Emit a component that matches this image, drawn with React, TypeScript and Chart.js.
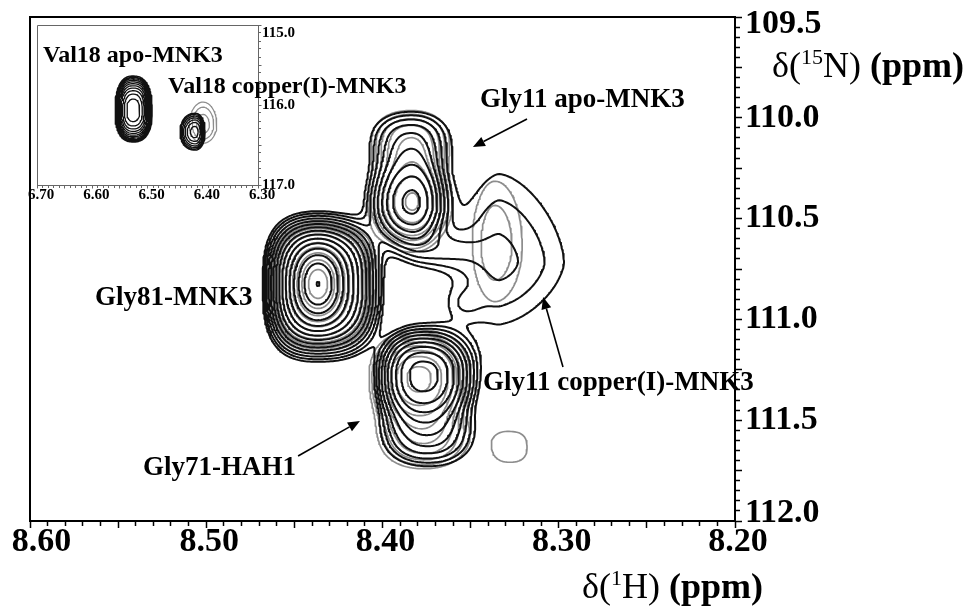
import { useEffect, useRef } from 'react';
import { Chart, registerables } from 'chart.js';

Chart.register(...registerables);

const SERIF = '"Liberation Serif", "Times New Roman", serif';
const BLACK = '#111111';
const GRAY = '#8d8d8d';

// ---------- main spectrum axes (ppm) ----------
const H_MIN = 8.2;
const H_MAX = 8.6;
const N_MIN = 109.5;
const N_MAX = 112.0;

// contour levels (relative intensity)
const BLACK_LEVELS = [1.0, 1.35, 1.82, 2.46, 3.32, 4.48, 6.05, 8.17, 11.0, 14.9, 20.1, 27.1, 36.6, 49.4, 66.7, 90.0];
const GRAY_LEVELS = [1.16, 1.57, 2.12, 2.86, 3.86, 5.21, 7.03, 9.49, 12.8, 17.3, 23.4, 31.5, 42.6];

// ---------- black spectrum: lineshape components ----------
const BLACK_PEAKS = ['Gly81-MNK3 base', 'Gly81-MNK3 core', 'Gly11 apo-MNK3', 'Gly11 apo-MNK3 shoulder', 'Gly11 copper(I)-MNK3', 'Gly11 copper(I)-MNK3 tail', 'Gly11 exchange ridge', 'Gly71-HAH1', 'Gly71-HAH1 shoulder'];
const BLACK_H = [8.4366, 8.4366, 8.3833, 8.3844, 8.3339, 8.3549, 8.3674, 8.3770, 8.3742];
const BLACK_N = [110.824, 110.824, 110.4226, 110.110, 110.7153, 110.9286, 110.6558, 111.2758, 111.5734];
const BLACK_AMP = [22, 45, 12, 3, 2.0, 0.6, 1.2, 17, 3.5];
const BLACK_WL = [0.0212, 0.01135, 0.0170, 0.0204, 0.0321, 0.0113, 0.0199, 0.0176, 0.0227];
const BLACK_WR = [0.0250, 0.01135, 0.0136, 0.0193, 0.0464, 0.0113, 0.0199, 0.0198, 0.0227];
const BLACK_WU = [0.2390, 0.154, 0.189, 0.129, 0.549, 0.089, 0.089, 0.158, 0.124];
const BLACK_WD = [0.2590, 0.154, 0.164, 0.149, 0.387, 0.089, 0.089, 0.189, 0.139];
const BLACK_EXP = [2.9, 2, 2, 2.2, 1.6, 2, 2, 2.3, 2.2];

// ---------- gray spectrum: lineshape components ----------
const GRAY_PEAKS = ['Gly81-MNK3 base', 'Gly81-MNK3 core', 'Gly11 apo-MNK3', 'Gly11 apo-MNK3 shoulder', 'Gly11 copper(I)-MNK3', 'Gly71-HAH1', 'Gly71-HAH1 shoulder', 'minor peak'];
const GRAY_H = [8.4366, 8.4366, 8.3830, 8.3840, 8.3362, 8.3793, 8.3765, 8.3271];
const GRAY_N = [110.824, 110.824, 110.420, 110.100, 110.631, 111.2907, 111.5883, 111.633];
const GRAY_AMP = [12, 25, 10, 3.2, 1.9, 14, 3.5, 1.5];
const GRAY_WL = [0.0200, 0.0110, 0.0172, 0.0210, 0.018, 0.0190, 0.0235, 0.0156];
const GRAY_WR = [0.0235, 0.0110, 0.0146, 0.0205, 0.022, 0.0192, 0.0235, 0.0156];
const GRAY_WU = [0.2246, 0.150, 0.195, 0.133, 0.45, 0.160, 0.128, 0.128];
const GRAY_WD = [0.2433, 0.150, 0.168, 0.150, 0.40, 0.190, 0.145, 0.128];
const GRAY_EXP = [2.9, 2, 2, 2.2, 2, 2.3, 2.2, 2.5];

// ---------- annotations (data coordinates) ----------
const MAIN_LABELS = ['Gly11 apo-MNK3', 'Gly81-MNK3', 'Gly11 copper(I)-MNK3', 'Gly71-HAH1'];
const MAIN_LABEL_H = [8.3447, 8.5631, 8.3430, 8.5359];
const MAIN_LABEL_N = [109.9464, 110.9286, 111.3502, 111.7718];
const ARROW_FROM_H = [8.3180, 8.2976, 8.4479];
const ARROW_FROM_N = [110.006, 111.236, 111.6776];
const ARROW_TO_H = [8.3487, 8.3089, 8.4128];
const ARROW_TO_N = [110.1448, 110.8889, 111.504];

// ---------- inset (Val18) ----------
const INSET_H_MIN = 6.3;
const INSET_H_MAX = 6.7;
const INSET_N_MIN = 115.0;
const INSET_N_MAX = 117.0;
const INSET_BLACK_H = [6.526, 6.414];
const INSET_BLACK_N = [116.075, 116.34];
const INSET_BLACK_AMP = [25, 7];
const INSET_BLACK_WL = [0.0204, 0.0200];
const INSET_BLACK_WR = [0.0215, 0.0134];
const INSET_BLACK_WU = [0.274, 0.175];
const INSET_BLACK_WD = [0.243, 0.166];
const INSET_BLACK_EXP = [2.5, 2.2];
const INSET_GRAY_H = [6.3995];
const INSET_GRAY_N = [116.25];
const INSET_GRAY_AMP = [2.5];
const INSET_GRAY_WL = [0.0284];
const INSET_GRAY_WR = [0.0284];
const INSET_GRAY_WU = [0.327];
const INSET_GRAY_WD = [0.26];
const INSET_GRAY_EXP = [2];
const INSET_LABELS = ['Val18 apo-MNK3', 'Val18 copper(I)-MNK3'];
const INSET_LABEL_H = [6.6891, 6.4629];
const INSET_LABEL_N = [115.4625, 115.85];

type PeakSet = { h: number[]; n: number[]; a: number[]; wl: number[]; wr: number[]; wu: number[]; wd: number[]; e: number[] };

function fieldAt(P: PeakSet, h: number, n: number) {
  let s = 0;
  for (let k = 0; k < P.h.length; k++) {
    const dh = h - P.h[k];
    const dn = n - P.n[k];
    const ux = Math.abs(dh) / (dh >= 0 ? P.wl[k] : P.wr[k]);
    const uy = Math.abs(dn) / (dn >= 0 ? P.wd[k] : P.wu[k]);
    const q = Math.pow(ux, P.e[k]) + Math.pow(uy, P.e[k]);
    if (q < 50) s += P.a[k] * Math.exp(-q);
  }
  return s;
}

type Pt = { x: number | null; y: number | null };

// marching squares -> polylines separated by gaps
function contourPoints(P: PeakSet, levels: number[], h0: number, h1: number, hs: number, n0: number, n1: number, ns: number): Pt[] {
  const cols = Math.round((h1 - h0) / hs) + 1;
  const rows = Math.round((n1 - n0) / ns) + 1;
  const g = new Float64Array(cols * rows);
  for (let j = 0; j < rows; j++) for (let i = 0; i < cols; i++) g[j * cols + i] = fieldAt(P, h0 + i * hs, n0 + j * ns);
  const out: Pt[] = [];
  for (const L of levels) {
    const segA: number[] = [];
    const segB: number[] = [];
    const adj = new Map<number, number[]>();
    const add = (a: number, b: number) => {
      const idx = segA.length;
      segA.push(a);
      segB.push(b);
      if (!adj.has(a)) adj.set(a, []);
      if (!adj.has(b)) adj.set(b, []);
      adj.get(a)!.push(idx);
      adj.get(b)!.push(idx);
    };
    for (let j = 0; j < rows - 1; j++) {
      for (let i = 0; i < cols - 1; i++) {
        const b = j * cols + i;
        const v0 = g[b], v1 = g[b + 1], v2 = g[b + cols + 1], v3 = g[b + cols];
        const code = (v0 >= L ? 1 : 0) | (v1 >= L ? 2 : 0) | (v2 >= L ? 4 : 0) | (v3 >= L ? 8 : 0);
        if (code === 0 || code === 15) continue;
        const e0 = b * 2, e1 = (b + 1) * 2 + 1, e2 = (b + cols) * 2, e3 = b * 2 + 1;
        const center = (v0 + v1 + v2 + v3) / 4 >= L;
        switch (code) {
          case 1: case 14: add(e3, e0); break;
          case 2: case 13: add(e0, e1); break;
          case 3: case 12: add(e3, e1); break;
          case 4: case 11: add(e1, e2); break;
          case 6: case 9: add(e0, e2); break;
          case 7: case 8: add(e2, e3); break;
          case 5:
            if (center) { add(e0, e1); add(e2, e3); } else { add(e3, e0); add(e1, e2); }
            break;
          case 10:
            if (center) { add(e3, e0); add(e1, e2); } else { add(e0, e1); add(e2, e3); }
            break;
        }
      }
    }
    const pointOf = (id: number): Pt => {
      const base = Math.floor(id / 2);
      const type = id % 2;
      const i = base % cols;
      const j = Math.floor(base / cols);
      const va = g[base];
      if (type === 0) {
        const vb = g[base + 1];
        const t = (L - va) / (vb - va);
        return { x: h0 + (i + t) * hs, y: n0 + j * ns };
      }
      const vb = g[base + cols];
      const t = (L - va) / (vb - va);
      return { x: h0 + i * hs, y: n0 + (j + t) * ns };
    };
    const used = new Uint8Array(segA.length);
    const walk = (start: number, chain: number[]) => {
      let cur = start;
      for (;;) {
        const list = adj.get(cur)!;
        let nxt = -1;
        for (const t of list) if (!used[t]) { nxt = t; break; }
        if (nxt < 0) break;
        used[nxt] = 1;
        const other = segA[nxt] === cur ? segB[nxt] : segA[nxt];
        chain.push(other);
        cur = other;
      }
    };
    for (let s = 0; s < segA.length; s++) {
      if (used[s]) continue;
      used[s] = 1;
      const fwd = [segA[s], segB[s]];
      walk(segB[s], fwd);
      const back: number[] = [];
      walk(segA[s], back);
      const chain = back.reverse().concat(fwd);
      for (const id of chain) out.push(pointOf(id));
      out.push({ x: null, y: null });
    }
  }
  return out;
}

function near(v: number, t: number) { return Math.abs(v - t) < 1e-6; }
function isMult(v: number, step: number) { const r = v / step; return Math.abs(r - Math.round(r)) < 1e-4; }

function drawArrow(ctx: CanvasRenderingContext2D, x1: number, y1: number, x2: number, y2: number) {
  const ang = Math.atan2(y2 - y1, x2 - x1);
  const hl = 12, hw = 5;
  const bx = x2 - hl * Math.cos(ang), by = y2 - hl * Math.sin(ang);
  ctx.lineWidth = 1.6;
  ctx.beginPath(); ctx.moveTo(x1, y1); ctx.lineTo(bx, by); ctx.stroke();
  ctx.beginPath(); ctx.moveTo(x2, y2);
  ctx.lineTo(bx + hw * Math.sin(ang), by - hw * Math.cos(ang));
  ctx.lineTo(bx - hw * Math.sin(ang), by + hw * Math.cos(ang));
  ctx.closePath(); ctx.fill();
}

function drawNucleusTitle(ctx: CanvasRenderingContext2D, x: number, y: number, mass: string, sym: string, size: number) {
  let cx = x;
  ctx.textAlign = 'left';
  ctx.textBaseline = 'alphabetic';
  ctx.font = `${size}px ${SERIF}`;
  ctx.fillText('δ(', cx, y); cx += ctx.measureText('δ(').width;
  ctx.font = `${Math.round(size * 0.6)}px ${SERIF}`;
  ctx.fillText(mass, cx, y - size * 0.36); cx += ctx.measureText(mass).width;
  ctx.font = `${size}px ${SERIF}`;
  ctx.fillText(sym + ')', cx, y); cx += ctx.measureText(sym + ') ').width;
  ctx.font = `bold ${size}px ${SERIF}`;
  ctx.fillText('(ppm)', cx, y);
}

const mainDecor = {
  id: 'mainDecor',
  afterDraw(chart: any) {
    const { ctx, chartArea: ca, scales } = chart;
    const x = scales.x, y = scales.y;
    ctx.save();
    ctx.strokeStyle = '#000';
    ctx.fillStyle = '#000';
    ctx.lineWidth = 2;
    ctx.beginPath();
    ctx.moveTo(ca.left, ca.bottom + 1);
    ctx.lineTo(ca.left, ca.top);
    ctx.lineTo(ca.right, ca.top);
    ctx.stroke();
    for (let k = 0; k < ARROW_FROM_H.length; k++) {
      drawArrow(ctx, x.getPixelForValue(ARROW_FROM_H[k]), y.getPixelForValue(ARROW_FROM_N[k]), x.getPixelForValue(ARROW_TO_H[k]), y.getPixelForValue(ARROW_TO_N[k]));
    }
    ctx.font = `bold 27px ${SERIF}`;
    ctx.textAlign = 'left';
    ctx.textBaseline = 'alphabetic';
    for (let k = 0; k < MAIN_LABELS.length; k++) {
      ctx.fillText(MAIN_LABELS[k], x.getPixelForValue(MAIN_LABEL_H[k]), y.getPixelForValue(MAIN_LABEL_N[k]));
    }
    drawNucleusTitle(ctx, ca.right + 37, ca.top + 60, '15', 'N', 36);
    drawNucleusTitle(ctx, ca.right - 153, ca.bottom + 77, '1', 'H', 36);
    ctx.restore();
  },
};

const insetDecor = {
  id: 'insetDecor',
  afterDraw(chart: any) {
    const { ctx, chartArea: ca, scales } = chart;
    const x = scales.x, y = scales.y;
    ctx.save();
    ctx.strokeStyle = '#666';
    ctx.lineWidth = 1;
    ctx.beginPath();
    ctx.moveTo(ca.left + 0.5, ca.bottom);
    ctx.lineTo(ca.left + 0.5, ca.top + 0.5);
    ctx.lineTo(ca.right, ca.top + 0.5);
    ctx.stroke();
    ctx.fillStyle = '#000';
    ctx.font = `bold 24px ${SERIF}`;
    ctx.textAlign = 'left';
    ctx.textBaseline = 'alphabetic';
    for (let k = 0; k < INSET_LABELS.length; k++) {
      ctx.fillText(INSET_LABELS[k], x.getPixelForValue(INSET_LABEL_H[k]), y.getPixelForValue(INSET_LABEL_N[k]));
    }
    ctx.restore();
  },
};

function lineDataset(label: string, data: Pt[], color: string, width: number, order: number) {
  return {
    label, data, order,
    borderColor: color, borderWidth: width,
    pointRadius: 0, pointHoverRadius: 0, pointHitRadius: 0,
    fill: false, tension: 0, spanGaps: false,
    borderCapStyle: 'round', borderJoinStyle: 'round',
  };
}

function fixBox(w: number | null, h: number | null) {
  return (s: any) => {
    if (w !== null) s.width = w;
    if (h !== null) s.height = h;
    s.paddingLeft = 0; s.paddingRight = 0; s.paddingTop = 0; s.paddingBottom = 0;
  };
}

function buildMain() {
  const blackSet: PeakSet = { h: BLACK_H, n: BLACK_N, a: BLACK_AMP, wl: BLACK_WL, wr: BLACK_WR, wu: BLACK_WU, wd: BLACK_WD, e: BLACK_EXP };
  const graySet: PeakSet = { h: GRAY_H, n: GRAY_N, a: GRAY_AMP, wl: GRAY_WL, wr: GRAY_WR, wu: GRAY_WU, wd: GRAY_WD, e: GRAY_EXP };
  const blackPts = contourPoints(blackSet, BLACK_LEVELS, 8.26, 8.50, 0.0011, 109.9, 111.98, 0.009);
  const grayPts = contourPoints(graySet, GRAY_LEVELS, 8.26, 8.50, 0.0011, 109.9, 111.98, 0.009);
  const font34 = { family: SERIF, size: 34, weight: 'bold', lineHeight: 1 };
  return {
    type: 'line',
    data: {
      datasets: [
        lineDataset('black spectrum (' + BLACK_PEAKS.length + ' components)', blackPts, BLACK, 2.0, 0),
        lineDataset('gray spectrum (' + GRAY_PEAKS.length + ' components)', grayPts, GRAY, 1.7, 1),
      ],
    },
    options: {
      animation: false,
      responsive: false,
      events: [],
      layout: { padding: { left: 30, top: 17, right: 0, bottom: 0 } },
      plugins: { legend: { display: false }, tooltip: { enabled: false }, title: { display: false } },
      scales: {
        x: {
          type: 'linear', position: 'bottom', min: H_MIN, max: H_MAX, reverse: true,
          border: { display: true, color: '#000', width: 2 },
          grid: {
            display: true, drawOnChartArea: false, drawTicks: true, tickLength: 7, tickColor: '#000', tickWidth: 1.5,
            tickBorderDash: (c: any) => (c.tick && !isMult(c.tick.value, 0.05) ? [4, 60] : []),
          },
          ticks: {
            stepSize: 0.01, autoSkip: false, maxRotation: 0, minRotation: 0, maxTicksLimit: 1000,
            color: '#000', padding: -2.5, labelOffset: 3, font: font34,
            callback: (v: number) => {
              if (!isMult(v, 0.1)) return '';
              const s = v.toFixed(2);
              return near(v, H_MAX) ? '  ' + s : s;
            },
          },
          afterFit: fixBox(null, 86),
        },
        y: {
          type: 'linear', position: 'right', min: N_MIN, max: N_MAX, reverse: true,
          border: { display: true, color: '#000', width: 2 },
          grid: {
            display: true, drawOnChartArea: false, drawTicks: true, tickLength: 7, tickColor: '#000', tickWidth: 1.5,
            tickBorderDash: (c: any) => (c.tick && !isMult(c.tick.value, 0.25) ? [4, 60] : []),
          },
          ticks: {
            stepSize: 0.05, autoSkip: false, maxTicksLimit: 1000, color: '#000', padding: 3,
            font: (c: any) => {
              const v = c.tick ? c.tick.value : 0;
              return { family: SERIF, size: 34, weight: 'bold', lineHeight: near(v, N_MIN) ? '14px' : near(v, N_MAX) ? '16px' : 1 };
            },
            callback: (v: number) => {
              if (!isMult(v, 0.5)) return '';
              const s = v.toFixed(1);
              if (near(v, N_MIN)) return ['', s];
              if (near(v, N_MAX)) return [s, ''];
              return s;
            },
          },
          afterFit: fixBox(235, null),
        },
      },
    },
    plugins: [mainDecor],
  };
}

function buildInset() {
  const blackSet: PeakSet = { h: INSET_BLACK_H, n: INSET_BLACK_N, a: INSET_BLACK_AMP, wl: INSET_BLACK_WL, wr: INSET_BLACK_WR, wu: INSET_BLACK_WU, wd: INSET_BLACK_WD, e: INSET_BLACK_EXP };
  const graySet: PeakSet = { h: INSET_GRAY_H, n: INSET_GRAY_N, a: INSET_GRAY_AMP, wl: INSET_GRAY_WL, wr: INSET_GRAY_WR, wu: INSET_GRAY_WU, wd: INSET_GRAY_WD, e: INSET_GRAY_EXP };
  const blackPts = contourPoints(blackSet, BLACK_LEVELS, 6.33, 6.62, 0.003, 115.2, 116.9, 0.02);
  const grayPts = contourPoints(graySet, GRAY_LEVELS, 6.33, 6.62, 0.003, 115.2, 116.9, 0.02);
  const tickGrid = (major: number) => ({
    display: true, drawOnChartArea: false, drawTicks: true, tickLength: 3.5, tickColor: '#666', tickWidth: 1,
    tickBorderDash: (c: any) => (c.tick && !isMult(c.tick.value, major) ? [2, 40] : []),
  });
  return {
    type: 'line',
    data: {
      datasets: [
        lineDataset('Val18 black', blackPts, BLACK, 1.3, 0),
        lineDataset('Val18 gray', grayPts, GRAY, 1.2, 1),
      ],
    },
    options: {
      animation: false,
      responsive: false,
      events: [],
      layout: { padding: { left: 37, top: 25, right: 0, bottom: 0 } },
      plugins: { legend: { display: false }, tooltip: { enabled: false } },
      scales: {
        x: {
          type: 'linear', position: 'bottom', min: INSET_H_MIN, max: INSET_H_MAX, reverse: true,
          border: { display: true, color: '#666', width: 1 },
          grid: tickGrid(0.05),
          ticks: {
            stepSize: 0.01, autoSkip: false, maxRotation: 0, minRotation: 0, maxTicksLimit: 1000,
            color: '#000', padding: -1, labelOffset: 4,
            font: { family: SERIF, size: 15, weight: 'bold', lineHeight: 1 },
            callback: (v: number) => (isMult(v, 0.1) ? v.toFixed(2) : ''),
          },
          afterFit: fixBox(null, 422),
        },
        y: {
          type: 'linear', position: 'right', min: INSET_N_MIN, max: INSET_N_MAX, reverse: true,
          border: { display: true, color: '#666', width: 1 },
          grid: tickGrid(0.5),
          ticks: {
            stepSize: 0.1, autoSkip: false, maxTicksLimit: 1000, color: '#000', padding: 0.5,
            font: (c: any) => {
              const v = c.tick ? c.tick.value : 0;
              return { family: SERIF, size: 15, weight: 'bold', lineHeight: near(v, INSET_N_MIN) ? '16px' : 1 };
            },
            callback: (v: number) => {
              if (!isMult(v, 1)) return '';
              const s = v.toFixed(1);
              return near(v, INSET_N_MIN) ? ['', s] : s;
            },
          },
          afterFit: fixBox(712, null),
        },
      },
    },
    plugins: [insetDecor],
  };
}

export default function App() {
  const mainRef = useRef<HTMLCanvasElement>(null);
  const insetRef = useRef<HTMLCanvasElement>(null);
  useEffect(() => {
    document.body.style.margin = '0';
    const main = new Chart(mainRef.current as HTMLCanvasElement, buildMain() as any);
    const inset = new Chart(insetRef.current as HTMLCanvasElement, buildInset() as any);
    return () => {
      main.destroy();
      inset.destroy();
    };
  }, []);
  return (
    <div style={{ position: 'fixed', left: 0, top: 0, width: 970, height: 607, background: '#fff' }}>
      <canvas ref={mainRef} width={970} height={607} style={{ position: 'absolute', left: 0, top: 0 }} />
      <canvas ref={insetRef} width={970} height={607} style={{ position: 'absolute', left: 0, top: 0 }} />
    </div>
  );
}
